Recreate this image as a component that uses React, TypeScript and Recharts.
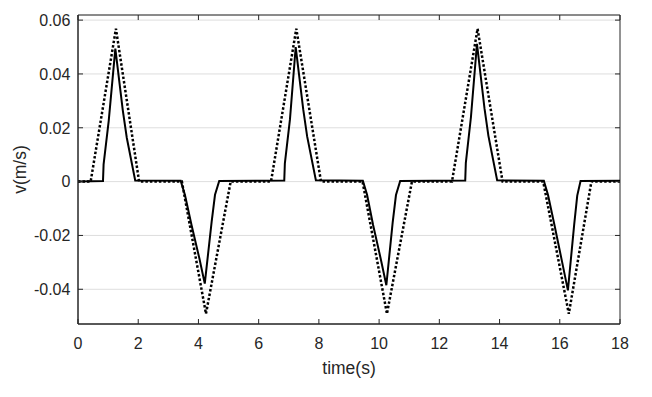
import { CartesianGrid, Label, Line, LineChart, ReferenceArea, XAxis, YAxis } from 'recharts'

// measured velocity (solid)
const solidTime = [
  0, 0.83, 0.85, 1.02, 1.24, 1.49, 1.62, 1.9, 3.41, 3.55, 3.77, 4.03, 4.21, 4.44, 4.55, 4.69,
  6.85, 6.87, 7.04, 7.23, 7.48, 7.61, 7.9, 9.46, 9.6, 9.8, 10.06, 10.24, 10.45, 10.56, 10.7,
  12.86, 12.88, 13.05, 13.25, 13.5, 13.63, 13.92, 15.47, 15.61, 15.83, 16.08, 16.27, 16.48, 16.58, 16.69, 18,
]
const solidVel = [
  0, 0.0002, 0.0064, 0.0226, 0.0494, 0.0263, 0.0163, 0.0004, 0.0003, -0.0049, -0.0161, -0.0285, -0.0379, -0.0148, -0.0049, 0.0002,
  0.0004, 0.0068, 0.0232, 0.05, 0.0268, 0.0168, 0.0005, 0.0003, -0.0049, -0.0161, -0.029, -0.0385, -0.0152, -0.005, 0.0002,
  0.0004, 0.007, 0.024, 0.0512, 0.0272, 0.017, 0.0005, 0.0003, -0.005, -0.0165, -0.03, -0.0404, -0.0158, -0.0052, 0.0002, 0.0003,
]

// reference velocity (dotted)
const refTime = [
  0, 0.42, 1.26, 2.03, 3.45, 4.25, 5.07, 6.41, 7.25, 8.07, 9.45, 10.26, 11.09, 12.42, 13.27, 14.1, 15.45, 16.3, 17.05, 18,
]
const refVel = [
  0, 0, 0.0568, 0, 0, -0.0491, 0, 0, 0.0568, 0, 0, -0.0491, 0, 0, 0.0568, 0, 0, -0.0491, 0, 0,
]

const xTicks = [0, 2, 4, 6, 8, 10, 12, 14, 16, 18]
const yTicks = [-0.04, -0.02, 0, 0.02, 0.04, 0.06]
const xDomain = [0, 18]
const yDomain = [-0.0529, 0.0619]

const solidData = solidTime.map((t, i) => ({ t, v: solidVel[i] }))
const refData = refTime.map((t, i) => ({ t, v: refVel[i] }))

const AXIS = '#262626'
const FONT = '"Liberation Sans", Arial, Helvetica, sans-serif'
const W = 652
const H = 397
const MARGIN = { top: 15, right: 32, bottom: 0, left: 0 }
const X_AXIS_H = 73
const Y_AXIS_W = 78
const PLOT_TOP = MARGIN.top
const PLOT_BOTTOM = H - X_AXIS_H
const PLOT_LEFT = Y_AXIS_W
const PLOT_RIGHT = W - MARGIN.right
const TICK = 5
const X_GAP = 14
const Y_GAP = 7.6

// MATLAB-style ticks point into the box, mirrored on top / right
function BottomTick(props: any) {
  const { x, y, payload } = props
  return (
    <g>
      <line x1={x} x2={x} y1={PLOT_BOTTOM} y2={PLOT_BOTTOM - TICK} stroke={AXIS} />
      <line x1={x} x2={x} y1={PLOT_TOP} y2={PLOT_TOP + TICK} stroke={AXIS} />
      <text x={x} y={y} dy="0.71em" textAnchor="middle" fill={AXIS} fontSize={16} fontFamily={FONT}>
        {payload.value}
      </text>
    </g>
  )
}

function LeftTick(props: any) {
  const { x, y, payload } = props
  const v = payload.value as number
  return (
    <g>
      <line x1={PLOT_LEFT} x2={PLOT_LEFT + TICK} y1={y} y2={y} stroke={AXIS} />
      <line x1={PLOT_RIGHT} x2={PLOT_RIGHT - TICK} y1={y} y2={y} stroke={AXIS} />
      <text x={x} y={y} dy="0.36em" textAnchor="end" fill={AXIS} fontSize={16} fontFamily={FONT}>
        {v === 0 ? '0' : v.toFixed(2)}
      </text>
    </g>
  )
}

export default function App() {
  return (
    <div
      style={{
        position: 'absolute',
        left: 0,
        top: 0,
        width: W,
        height: H,
        background: '#fff',
        fontFamily: FONT,
      }}
    >
      <LineChart width={W} height={H} margin={MARGIN}>
        <CartesianGrid vertical={false} stroke="#dedede" />
        <XAxis
          type="number"
          dataKey="t"
          domain={xDomain}
          ticks={xTicks}
          interval={0}
          height={X_AXIS_H}
          tickSize={0}
          tickMargin={X_GAP}
          stroke={AXIS}
          tickLine={false}
          tick={BottomTick}
          allowDataOverflow
        >
          <Label
            content={() => (
              <text
                x={349}
                y={373.5}
                textAnchor="middle"
                fill={AXIS}
                fontSize={17.5}
                fontFamily={FONT}
              >
                time(s)
              </text>
            )}
          />
        </XAxis>
        <YAxis
          type="number"
          domain={yDomain}
          ticks={yTicks}
          interval={0}
          width={Y_AXIS_W}
          tickSize={0}
          tickMargin={Y_GAP}
          tickLine={false}
          stroke={AXIS}
          tick={LeftTick}
          allowDataOverflow
        >
          <Label
            content={() => (
              <text
                x={20}
                y={169.5}
                transform="rotate(-90 20 169.5)"
                textAnchor="middle"
                dominantBaseline="central"
                fill={AXIS}
                fontSize={17.5}
                fontFamily={FONT}
              >
                v(m/s)
              </text>
            )}
          />
        </YAxis>
        {/* axes box */}
        <ReferenceArea
          x1={xDomain[0]}
          x2={xDomain[1]}
          y1={yDomain[0]}
          y2={yDomain[1]}
          fill="none"
          fillOpacity={0}
          stroke={AXIS}
          strokeWidth={1}
          ifOverflow="visible"
        />
        <Line
          data={solidData}
          dataKey="v"
          stroke="#000"
          strokeWidth={2}
          dot={false}
          isAnimationActive={false}
        />
        <Line
          data={refData}
          dataKey="v"
          stroke="#000"
          strokeWidth={2.5}
          strokeDasharray="2.5 2"
          dot={false}
          isAnimationActive={false}
        />
      </LineChart>
    </div>
  )
}
